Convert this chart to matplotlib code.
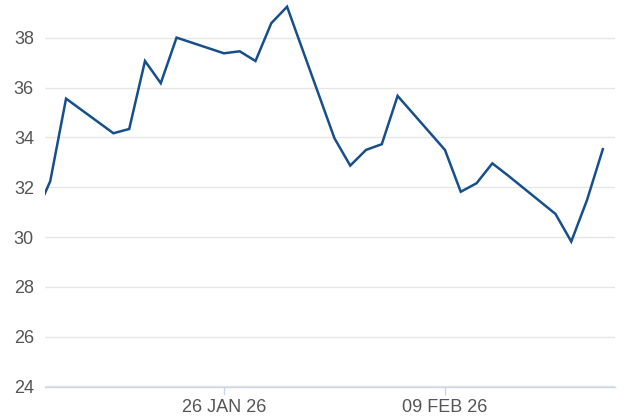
import matplotlib
matplotlib.use("Agg")
import matplotlib.pyplot as plt
import matplotlib.dates as mdates
import numpy as np
from datetime import datetime, timedelta

dates = ["2026-01-14", "2026-01-15", "2026-01-16", "2026-01-19", "2026-01-20", "2026-01-21",
         "2026-01-22", "2026-01-23", "2026-01-26", "2026-01-27", "2026-01-28", "2026-01-29",
         "2026-01-30", "2026-02-02", "2026-02-03", "2026-02-04", "2026-02-05", "2026-02-06",
         "2026-02-09", "2026-02-10", "2026-02-11", "2026-02-12", "2026-02-13", "2026-02-16",
         "2026-02-17", "2026-02-18", "2026-02-19"]
values = [30.8, 32.25, 35.56, 34.17, 34.34, 37.07,
          36.18, 38.01, 37.38, 37.46, 37.07, 38.59,
          39.25, 33.97, 32.87, 33.50, 33.73, 35.67,
          33.50, 31.82, 32.16, 32.96, 32.47, 30.93,
          29.82, 31.49, 33.53]
y_ticks = [24, 26, 28, 30, 32, 34, 36, 38]
x_tick_dates = ["2026-01-26", "2026-02-09"]
x_tick_labels = ["26 JAN 26", "09 FEB 26"]

x = [datetime.strptime(d, "%Y-%m-%d") for d in dates]
xt = [datetime.strptime(d, "%Y-%m-%d") for d in x_tick_dates]

fig = plt.figure(figsize=(6.26, 4.17), dpi=100)
ax = fig.add_axes([45/626, (417-386.5)/417, (615-45)/626, 386.5/417])

ax.plot(x, values, color="#174f8c", linewidth=1.8, solid_joinstyle="miter", zorder=3)

ax.set_xlim(datetime(2026, 1, 14, 16, 0), datetime(2026, 2, 19, 18, 30))
ax.set_ylim(24, 39.52)

ax.set_yticks(y_ticks)
ax.set_yticklabels([str(t) for t in y_ticks])
ax.set_xticks(xt)
ax.set_xticklabels(x_tick_labels)

ax.grid(axis="y", color="#e6e6e6", linewidth=1.0, zorder=0)
for s in ["top", "right", "left"]:
    ax.spines[s].set_visible(False)
ax.spines["bottom"].set_color("#ccd6eb")
ax.spines["bottom"].set_linewidth(1.0)

ax.tick_params(axis="y", length=0, pad=8, labelsize=13, labelcolor="#555555")
ax.tick_params(axis="x", length=6, color="#ccd6eb", width=1, pad=3, labelsize=13, labelcolor="#555555")
for lab in ax.get_xticklabels() + ax.get_yticklabels():
    lab.set_fontfamily("Liberation Sans")

fig.savefig("out.png", dpi=100)
